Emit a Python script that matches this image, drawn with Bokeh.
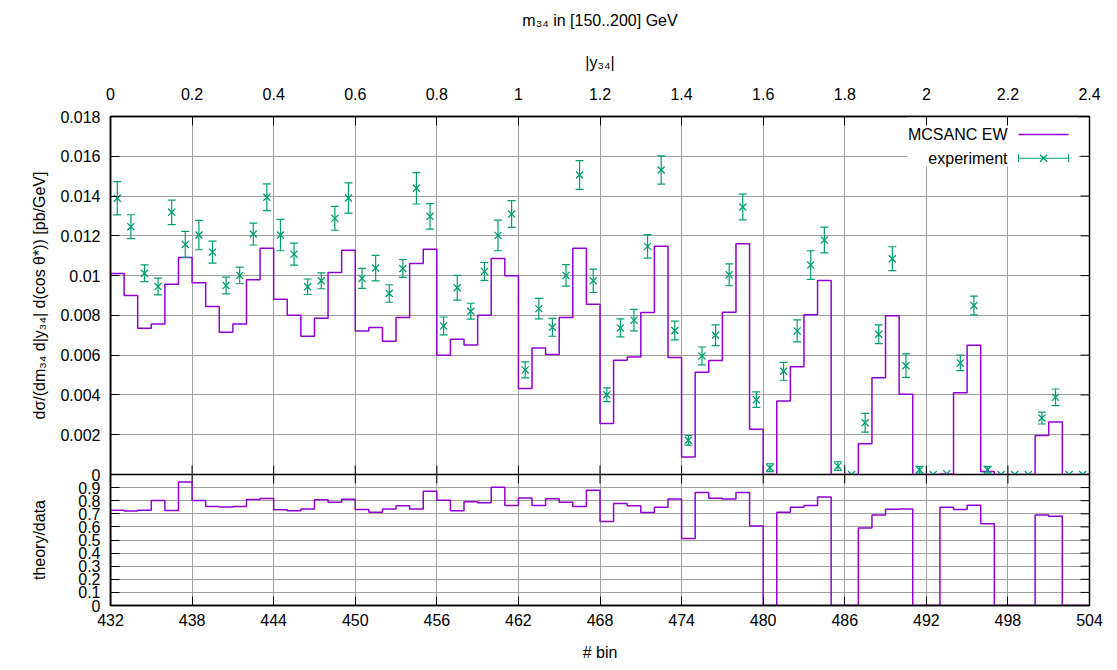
import math

from bokeh.plotting import figure
from bokeh.layouts import column
from bokeh.models import (Range1d, LinearAxis, FixedTicker, Whisker, TeeHead,
                          ColumnDataSource, Label, BoxAnnotation, Grid)
from bokeh.embed import file_html
from bokeh.resources import INLINE

# ---- data -------------------------------------------------------------
bin_first = 432
bin_last = 504

# MCSANC EW prediction per bin
theory = [
    0.0101, 0.0090, 0.00735, 0.00757, 0.00957, 0.01091,
    0.00964, 0.00845, 0.00715, 0.00757, 0.00979, 0.01138,
    0.00881, 0.00801, 0.00695, 0.00786, 0.01016, 0.01128,
    0.00722, 0.00739, 0.0067, 0.00789, 0.01061, 0.01132,
    0.0060, 0.0068, 0.00651, 0.00801, 0.01086, 0.00999,
    0.00432, 0.00636, 0.00603, 0.00789, 0.01138, 0.00856,
    0.00257, 0.00574, 0.00591, 0.00814, 0.01147, 0.00588,
    0.00088, 0.00514, 0.00573, 0.00816, 0.0116, 0.00228,
    0.0, 0.00369, 0.00542, 0.00803, 0.00976, 0.0,
    0.0, 0.00154, 0.00487, 0.00798, 0.00403, 0.0,
    0.0, 0.00003, 0.00411, 0.0065, 0.00015, 0.0,
    0.0, 0.0, 0.00196, 0.00264, 0.0, 0.0,
]

# measured cross section per bin
experiment = [
    0.01389, 0.01246, 0.01012, 0.00945, 0.01318, 0.01157,
    0.01204, 0.01118, 0.0095, 0.01001, 0.01209, 0.01394,
    0.01204, 0.01108, 0.00944, 0.00974, 0.01288, 0.0139,
    0.00986, 0.01038, 0.0091, 0.01036, 0.01439, 0.01298,
    0.00747, 0.00939, 0.00821, 0.01021, 0.01202, 0.0131,
    0.00526, 0.00834, 0.0074, 0.01001, 0.01506, 0.00974,
    0.00401, 0.00737, 0.00776, 0.01147, 0.01531, 0.00724,
    0.00172, 0.00596, 0.007, 0.01004, 0.01345, 0.00376,
    0.00034, 0.00519, 0.00722, 0.01053, 0.01179, 0.00042,
    0.0, 0.0026, 0.00705, 0.01085, 0.00547, 0.00024,
    0.0, 0.00004, 0.00561, 0.0085, 0.00024, 0.0,
    0.0, 0.0, 0.00284, 0.00388, 0.0, 0.0,
]

# absolute uncertainty of the measurement
experiment_err = [
    0.00084, 0.0006, 0.00042, 0.00042, 0.00062, 0.00065,
    0.00074, 0.00055, 0.00042, 0.00042, 0.00055, 0.00067,
    0.00079, 0.00055, 0.00039, 0.0004, 0.0006, 0.00076,
    0.0005, 0.00064, 0.00044, 0.00045, 0.00079, 0.00064,
    0.00045, 0.00062, 0.0004, 0.00045, 0.00077, 0.00067,
    0.0004, 0.00052, 0.00045, 0.00054, 0.00072, 0.00059,
    0.00035, 0.00045, 0.00054, 0.00059, 0.00071, 0.00047,
    0.00024, 0.00045, 0.00052, 0.00055, 0.00065, 0.00039,
    0.0002, 0.00045, 0.00055, 0.00072, 0.00065, 0.00022,
    0.0, 0.00047, 0.00047, 0.0006, 0.00059, 0.00017,
    0.0, 0.0, 0.00039, 0.00047, 0.00017, 0.0,
    0.0, 0.0, 0.0003, 0.00042, 0.0, 0.0,
]

bin_ticks = [432, 438, 444, 450, 456, 462, 468, 474, 480, 486, 492, 498, 504]
y34_ticks = [0, 0.2, 0.4, 0.6, 0.8, 1, 1.2, 1.4, 1.6, 1.8, 2, 2.2, 2.4]
y34_labels = ["0", "0.2", "0.4", "0.6", "0.8", "1", "1.2", "1.4", "1.6",
              "1.8", "2", "2.2", "2.4"]
xs_ticks = [0, 0.002, 0.004, 0.006, 0.008, 0.01, 0.012, 0.014, 0.016, 0.018]
xs_labels = ["0", "0.002", "0.004", "0.006", "0.008", "0.01", "0.012",
             "0.014", "0.016", "0.018"]
ratio_ticks = [0, 0.1, 0.2, 0.3, 0.4, 0.5, 0.6, 0.7, 0.8, 0.9]
ratio_labels = ["0", "0.1", "0.2", "0.3", "0.4", "0.5", "0.6", "0.7", "0.8",
                "0.9"]

# ---- derived quantities ------------------------------------------------
n_bins = len(theory)
centers = [bin_first + i + 0.5 for i in range(n_bins)]
ratio = [t / d if d > 0 else 0.0 for t, d in zip(theory, experiment)]


def step_path(values):
    """Outline of a histogram: closed to zero at both ends."""
    xs, ys = [bin_first], [0.0]
    for i, v in enumerate(values):
        xs += [bin_first + i, bin_first + i + 1]
        ys += [v, v]
    xs.append(bin_last)
    ys.append(0.0)
    return xs, ys


# ---- styling -----------------------------------------------------------
FONT = "Liberation Sans"
PURPLE = "#9400d3"
GREEN = "#009e73"
GRID = "#a0a0a0"
TICK_LEN = 9
BOTTOM_BORDER = 10


def style_axis(ax):
    ax.major_label_text_font = FONT
    ax.major_label_text_font_size = "16px"
    ax.major_label_text_color = "black"
    ax.axis_label_text_font = FONT
    ax.axis_label_text_font_size = "16px"
    ax.axis_label_text_font_style = "normal"
    ax.axis_label_text_color = "black"
    ax.axis_line_color = "black"
    ax.axis_line_width = 1.5
    ax.major_tick_line_color = "black"
    ax.major_tick_line_width = 1
    ax.major_tick_in = TICK_LEN
    ax.major_tick_out = 0
    ax.minor_tick_line_color = None


def add_grid(p, xticks, yticks):
    for g in p.grid:
        g.visible = False
    for dim, ticks in ((0, xticks), (1, yticks)):
        p.add_layout(Grid(dimension=dim, ticker=FixedTicker(ticks=ticks),
                          grid_line_color=GRID, grid_line_width=1))


def mirror_ticks(p, xs, ys, angle):
    """Inward tick marks on the frame sides that carry no labels."""
    p.ray(x=xs, y=ys, length=TICK_LEN, length_units="screen", angle=angle,
          line_color="black", line_width=1)


def frame_style(p):
    p.outline_line_color = "black"
    p.outline_line_width = 1.5
    p.background_fill_color = "white"


# ---- upper panel: cross section ---------------------------------------
x_range = Range1d(bin_first, bin_last)

p1 = figure(width=1117, height=484, x_range=x_range,
            y_range=Range1d(0, 0.018), output_backend="svg", title=None,
            toolbar_location=None, x_axis_location=None,
            min_border_left=110, min_border_right=28,
            min_border_top=116, min_border_bottom=BOTTOM_BORDER)
p1.extra_x_ranges = {"y34": Range1d(0, 2.4)}
frame_style(p1)
p1.border_fill_color = "white"

style_axis(p1.yaxis[0])
p1.yaxis[0].ticker = FixedTicker(ticks=xs_ticks)
p1.yaxis[0].major_label_overrides = dict(zip(xs_ticks, xs_labels))
p1.yaxis[0].major_label_standoff = 10
p1.yaxis[0].axis_label = "dσ/(dm₃₄ d|y₃₄| d(cos θ*)) [pb/GeV]"
p1.yaxis[0].axis_label_standoff = 9

top_axis = LinearAxis(x_range_name="y34", ticker=FixedTicker(ticks=y34_ticks))
style_axis(top_axis)
top_axis.major_label_overrides = dict(zip(y34_ticks, y34_labels))
top_axis.major_label_standoff = 17
top_axis.axis_label = "|y₃₄|"
top_axis.axis_label_standoff = 14
p1.add_layout(top_axis, "above")

# heading: a bare outer band above the |y34| scale, centred over the frame
heading = LinearAxis(ticker=FixedTicker(ticks=[]))
style_axis(heading)
heading.axis_line_color = None
heading.major_tick_line_color = None
heading.major_label_standoff = 0
heading.axis_label = "m₃₄ in [150..200] GeV"
heading.axis_label_standoff = 22
p1.add_layout(heading, "above")

add_grid(p1, bin_ticks, xs_ticks)
mirror_ticks(p1, bin_ticks, [0] * len(bin_ticks), math.pi / 2)
mirror_ticks(p1, [bin_last] * len(xs_ticks), xs_ticks, math.pi)

tx, ty = step_path(theory)
p1.line(tx, ty, line_color=PURPLE, line_width=1.5)

err_idx = [i for i in range(n_bins) if experiment_err[i] > 0]
err_src = ColumnDataSource(dict(
    x=[centers[i] for i in err_idx],
    lower=[experiment[i] - experiment_err[i] for i in err_idx],
    upper=[experiment[i] + experiment_err[i] for i in err_idx],
))
p1.add_layout(Whisker(source=err_src, base="x", lower="lower", upper="upper",
                      dimension="height", line_color=GREEN, line_width=1.2,
                      level="annotation",
                      upper_head=TeeHead(size=8, line_color=GREEN,
                                         line_width=1.2),
                      lower_head=TeeHead(size=8, line_color=GREEN,
                                         line_width=1.2)))
p1.scatter(centers, experiment, marker="x", size=10, line_color=GREEN,
           line_width=1.3)

# key box in the upper right corner
p1.add_layout(BoxAnnotation(left=490.6, right=503.2, bottom=0.01548,
                            top=0.018, fill_color="white", fill_alpha=1.0,
                            line_color=None, level="underlay"))
key_y1, key_y2 = 0.01709, 0.01590
key_x0, key_x1 = 498.78, 502.46
for txt, ky in (("MCSANC EW", key_y1), ("experiment", key_y2)):
    p1.add_layout(Label(x=497.97, y=ky, text=txt, text_align="right",
                        text_baseline="middle", text_font=FONT,
                        text_font_size="16px", text_color="black"))
p1.line([key_x0, key_x1], [key_y1, key_y1], line_color=PURPLE, line_width=1.5)
p1.segment(x0=[key_x0], y0=[key_y2], x1=[key_x1], y1=[key_y2],
           line_color=GREEN, line_width=1.2)
p1.segment(x0=[key_x0, key_x1], y0=[key_y2 - 0.0002] * 2,
           x1=[key_x0, key_x1], y1=[key_y2 + 0.0002] * 2,
           line_color=GREEN, line_width=1.2)
p1.scatter([(key_x0 + key_x1) / 2], [key_y2], marker="x", size=10,
           line_color=GREEN, line_width=1.3)

# ---- lower panel: theory / data ---------------------------------------
p2 = figure(width=1117, height=196, x_range=x_range, y_range=Range1d(0, 1),
            output_backend="svg", toolbar_location=None, min_border_left=110,
            min_border_right=28, min_border_top=0, min_border_bottom=65)
frame_style(p2)
p2.border_fill_alpha = 0.0
# slide up under the spare strip of the upper panel so the frames touch
p2.margin = (-BOTTOM_BORDER, 0, 0, 0)

style_axis(p2.xaxis[0])
p2.xaxis[0].ticker = FixedTicker(ticks=bin_ticks)
p2.xaxis[0].major_label_standoff = 8
p2.xaxis[0].axis_label = "# bin"
p2.xaxis[0].axis_label_standoff = 15

style_axis(p2.yaxis[0])
p2.yaxis[0].ticker = FixedTicker(ticks=ratio_ticks)
p2.yaxis[0].major_label_overrides = dict(zip(ratio_ticks, ratio_labels))
p2.yaxis[0].major_label_standoff = 10
p2.yaxis[0].axis_label = "theory/data"
p2.yaxis[0].axis_label_standoff = 27

add_grid(p2, bin_ticks, ratio_ticks)
mirror_ticks(p2, bin_ticks, [1] * len(bin_ticks), -math.pi / 2)
mirror_ticks(p2, [bin_last] * len(ratio_ticks), ratio_ticks, math.pi)

rx, ry = step_path(ratio)
p2.line(rx, ry, line_color=PURPLE, line_width=1.5)

layout = column(p1, p2, spacing=0)
open("out.html", "w").write(file_html(layout, INLINE))
